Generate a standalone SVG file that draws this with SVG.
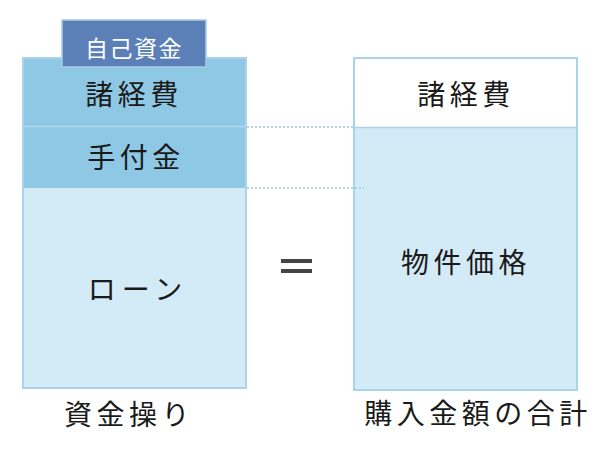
<svg xmlns="http://www.w3.org/2000/svg" width="601" height="453" viewBox="0 0 601 453">
<style>
.t{font-family:"Noto Sans CJK JP","Noto Sans",sans-serif;font-size:28px;fill:#1a1a1a;text-anchor:middle;letter-spacing:4.5px}
.box{stroke:#a9d3ea;stroke-width:2}
.dot{stroke:#9dc6dc;stroke-width:1.5;stroke-dasharray:2 2;fill:none}
</style>
<rect width="601" height="453" fill="#fff"/>
<g id="left-column">
<rect class="box" x="23" y="58" width="223" height="330" fill="#d3eaf7"/>
<rect x="24" y="59" width="221" height="129" fill="#8ec8e4"/>
<line x1="24" y1="126.5" x2="245" y2="126.5" stroke="#b3dcef" stroke-width="1.5"/>
</g>
<g id="right-column">
<rect class="box" x="354" y="58" width="223" height="332" fill="#d3eaf7"/>
<rect x="355" y="59" width="221" height="68" fill="#fff"/>
<line x1="355" y1="127.5" x2="576" y2="127.5" stroke="#a9d3ea" stroke-width="1.5"/>
</g>
<g id="connectors">
<line class="dot" x1="247" y1="127" x2="353" y2="127"/>
<line class="dot" x1="247" y1="188" x2="364" y2="188"/>
</g>
<g id="tab-jiko">
<rect x="62" y="20" width="144" height="47" fill="#5b80b8" stroke="#a9cde6" stroke-width="1.5"/>
<text x="134" y="57" class="t" style="fill:#fff;font-size:23px;letter-spacing:1.5px">自己資金</text>
</g>
<g id="left-shokeihi"><text x="134" y="105" class="t">諸経費</text></g>
<g id="left-tetsuke"><text x="136" y="168" class="t">手付金</text></g>
<g id="left-loan"><text x="138" y="300" class="t" style="letter-spacing:6px">ローン</text></g>
<g id="right-shokeihi"><text x="466" y="105" class="t">諸経費</text></g>
<g id="right-bukken"><text x="466" y="273" class="t">物件価格</text></g>
<g id="equals">
<rect x="281" y="259" width="31" height="4" fill="#444"/>
<rect x="281" y="269" width="31" height="4" fill="#444"/>
</g>
<g id="label-left"><text x="129" y="425" class="t">資金操り</text></g>
<g id="label-right"><text x="478" y="424" class="t">購入金額の合計</text></g>
</svg>
